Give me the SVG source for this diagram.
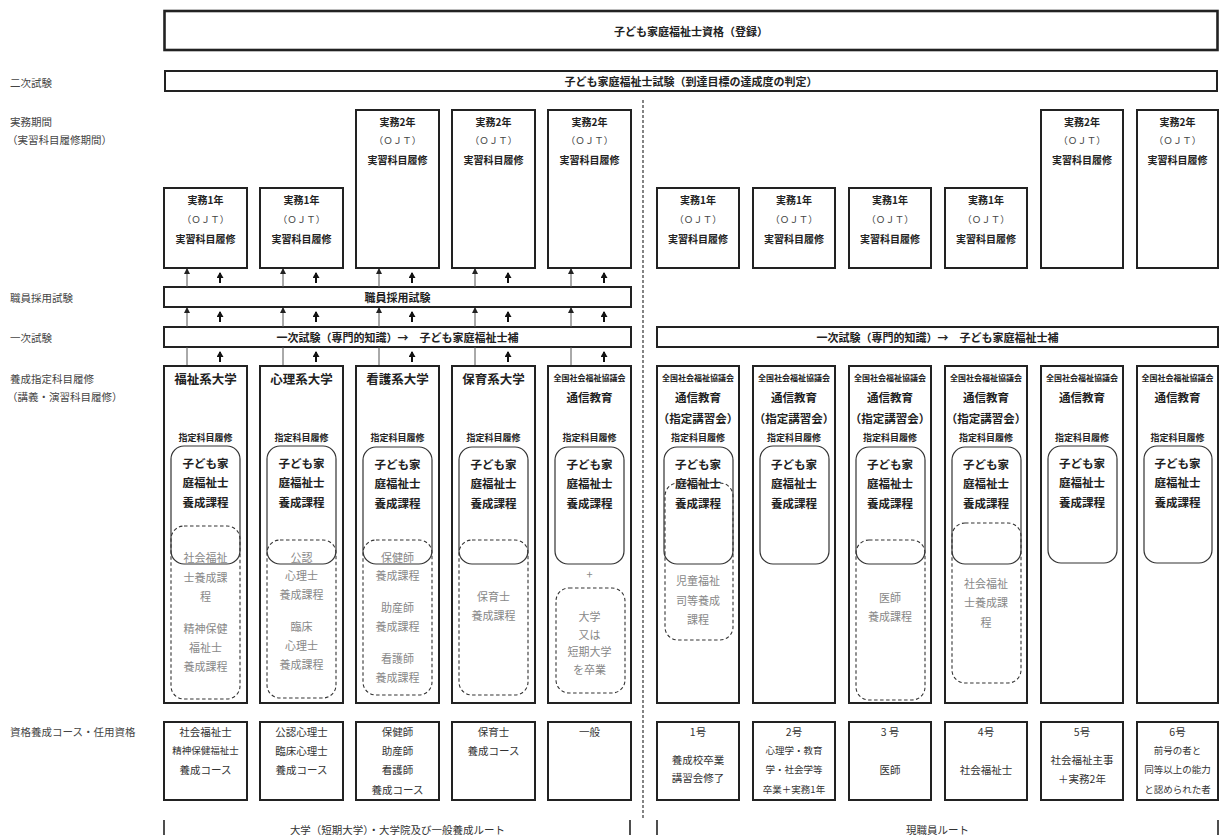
<svg xmlns="http://www.w3.org/2000/svg" width="1224" height="835" viewBox="0 0 1224 835">
<defs>
<style>
text{font-family:"Noto Sans CJK JP","Noto Sans",sans-serif;text-anchor:middle;dominant-baseline:central;fill:#222}
.lbl{text-anchor:start;font-size:10.5px;fill:#444}
.box{fill:#fff;stroke:#222;stroke-width:2}
.top{fill:#fff;stroke:#222;stroke-width:2.6}
.rr{fill:none;stroke:#333;stroke-width:1.2}
.dr{fill:none;stroke:#333;stroke-width:1.1;stroke-dasharray:3.5 2.5}
.h1{font-size:11px;font-weight:bold}
.pr{font-size:10px;font-weight:bold}
.ojt{font-size:9.5px;fill:#444}
.uni{font-size:12.5px;font-weight:bold}
.org{font-size:8px;font-weight:bold}
.tsu{font-size:11.5px;font-weight:bold}
.shi{font-size:9px;font-weight:bold}
.kc{font-size:11.5px;font-weight:bold}
.gr{font-size:11px;fill:#888}
.bt{font-size:10.5px;fill:#333}
.bs{font-size:9.5px;fill:#333}
.thin{stroke:#555;stroke-width:1;fill:none}
.bold{stroke:#111;stroke-width:2;fill:none}
.brk{stroke:#222;stroke-width:1.6}
</style>
<marker id="ah" markerUnits="userSpaceOnUse" markerWidth="6" markerHeight="6" viewBox="0 0 6 6" refX="5" refY="3" orient="auto"><path d="M0,0 L6,3 L0,6 Z" fill="#222"/></marker>
<marker id="ahb" markerUnits="userSpaceOnUse" markerWidth="6" markerHeight="7" viewBox="0 0 6 7" refX="5" refY="3.5" orient="auto"><path d="M0,0 L6,3.5 L0,7 Z" fill="#111"/></marker>
</defs>

<g id="row-labels">
<text class="lbl" x="10" y="82">二次試験</text>
<text class="lbl" x="10" y="121">実務期間</text>
<text class="lbl" x="7" y="139">（実習科目履修期間）</text>
<text class="lbl" x="10" y="297">職員採用試験</text>
<text class="lbl" x="10" y="337">一次試験</text>
<text class="lbl" x="10" y="378">養成指定科目履修</text>
<text class="lbl" x="7" y="396">（講義・演習科目履修）</text>
<text class="lbl" x="10" y="731">資格養成コース・任用資格</text>
</g>

<g id="qualification">
<rect class="top" x="164.5" y="11" width="1053" height="39"/>
<text class="h1" x="691" y="31">子ども家庭福祉士資格（登録）</text>
</g>
<g id="second-exam">
<rect class="box" x="165" y="71" width="1052" height="20"/>
<text class="h1" x="691" y="81">子ども家庭福祉士試験（到達目標の達成度の判定）</text>
</g>

<g id="divider">
<line x1="643" y1="100" x2="643" y2="818" stroke="#333" stroke-width="1.2" stroke-dasharray="3 2"/>
</g>

<g id="practice-1"><rect class="box" x="164" y="188" width="83" height="80"/><text class="pr" x="205.5" y="199">実務1年</text><text class="ojt" x="205.5" y="219">（ＯＪＴ）</text><text class="pr" x="205.5" y="238">実習科目履修</text></g>
<g id="practice-2"><rect class="box" x="260" y="188" width="83" height="80"/><text class="pr" x="301.5" y="199">実務1年</text><text class="ojt" x="301.5" y="219">（ＯＪＴ）</text><text class="pr" x="301.5" y="238">実習科目履修</text></g>
<g id="practice-3"><rect class="box" x="356" y="110" width="83" height="158"/><text class="pr" x="397.5" y="121">実務2年</text><text class="ojt" x="397.5" y="140">（ＯＪＴ）</text><text class="pr" x="397.5" y="159">実習科目履修</text></g>
<g id="practice-4"><rect class="box" x="452" y="110" width="83" height="158"/><text class="pr" x="493.5" y="121">実務2年</text><text class="ojt" x="493.5" y="140">（ＯＪＴ）</text><text class="pr" x="493.5" y="159">実習科目履修</text></g>
<g id="practice-5"><rect class="box" x="548" y="110" width="83" height="158"/><text class="pr" x="589.5" y="121">実務2年</text><text class="ojt" x="589.5" y="140">（ＯＪＴ）</text><text class="pr" x="589.5" y="159">実習科目履修</text></g>
<g id="practice-6"><rect class="box" x="657" y="188" width="82" height="80"/><text class="pr" x="698" y="199">実務1年</text><text class="ojt" x="698" y="219">（ＯＪＴ）</text><text class="pr" x="698" y="238">実習科目履修</text></g>
<g id="practice-7"><rect class="box" x="753" y="188" width="82" height="80"/><text class="pr" x="794" y="199">実務1年</text><text class="ojt" x="794" y="219">（ＯＪＴ）</text><text class="pr" x="794" y="238">実習科目履修</text></g>
<g id="practice-8"><rect class="box" x="849" y="188" width="82" height="80"/><text class="pr" x="890" y="199">実務1年</text><text class="ojt" x="890" y="219">（ＯＪＴ）</text><text class="pr" x="890" y="238">実習科目履修</text></g>
<g id="practice-9"><rect class="box" x="945" y="188" width="82" height="80"/><text class="pr" x="986" y="199">実務1年</text><text class="ojt" x="986" y="219">（ＯＪＴ）</text><text class="pr" x="986" y="238">実習科目履修</text></g>
<g id="practice-10"><rect class="box" x="1041" y="110" width="82" height="158"/><text class="pr" x="1082" y="121">実務2年</text><text class="ojt" x="1082" y="140">（ＯＪＴ）</text><text class="pr" x="1082" y="159">実習科目履修</text></g>
<g id="practice-11"><rect class="box" x="1137" y="110" width="81" height="158"/><text class="pr" x="1177.5" y="121">実務2年</text><text class="ojt" x="1177.5" y="140">（ＯＪＴ）</text><text class="pr" x="1177.5" y="159">実習科目履修</text></g>

<g id="staff-exam">
<rect class="box" x="164" y="287" width="467" height="20"/>
<text class="h1" x="397.5" y="297">職員採用試験</text>
</g>
<g id="first-exam-left">
<rect class="box" x="164" y="327" width="467" height="20"/>
<text class="h1" x="397.5" y="337">一次試験（専門的知識）→　子ども家庭福祉士補</text>
</g>
<g id="first-exam-right">
<rect class="box" x="657" y="327" width="561" height="20"/>
<text class="h1" x="937.5" y="337">一次試験（専門的知識）→　子ども家庭福祉士補</text>
</g>

<g id="connectors">
<g class="thin">
<line x1="187" y1="287" x2="187" y2="269" marker-end="url(#ah)"/><line x1="187" y1="327" x2="187" y2="308" marker-end="url(#ah)"/><line x1="187" y1="366" x2="187" y2="347"/>
<line x1="283" y1="287" x2="283" y2="269" marker-end="url(#ah)"/><line x1="283" y1="327" x2="283" y2="308" marker-end="url(#ah)"/><line x1="283" y1="366" x2="283" y2="347"/>
<line x1="379" y1="287" x2="379" y2="269" marker-end="url(#ah)"/><line x1="379" y1="327" x2="379" y2="308" marker-end="url(#ah)"/><line x1="379" y1="366" x2="379" y2="347"/>
<line x1="475" y1="287" x2="475" y2="269" marker-end="url(#ah)"/><line x1="475" y1="327" x2="475" y2="308" marker-end="url(#ah)"/><line x1="475" y1="366" x2="475" y2="347"/>
<line x1="571" y1="287" x2="571" y2="269" marker-end="url(#ah)"/><line x1="571" y1="327" x2="571" y2="308" marker-end="url(#ah)"/><line x1="571" y1="366" x2="571" y2="347"/>
</g>
<g class="bold">
<line x1="220" y1="283" x2="220" y2="273" marker-end="url(#ahb)"/><line x1="220" y1="322" x2="220" y2="312" marker-end="url(#ahb)"/><line x1="220" y1="362" x2="220" y2="352" marker-end="url(#ahb)"/>
<line x1="316" y1="283" x2="316" y2="273" marker-end="url(#ahb)"/><line x1="316" y1="322" x2="316" y2="312" marker-end="url(#ahb)"/><line x1="316" y1="362" x2="316" y2="352" marker-end="url(#ahb)"/>
<line x1="412" y1="283" x2="412" y2="273" marker-end="url(#ahb)"/><line x1="412" y1="322" x2="412" y2="312" marker-end="url(#ahb)"/><line x1="412" y1="362" x2="412" y2="352" marker-end="url(#ahb)"/>
<line x1="508" y1="283" x2="508" y2="273" marker-end="url(#ahb)"/><line x1="508" y1="322" x2="508" y2="312" marker-end="url(#ahb)"/><line x1="508" y1="362" x2="508" y2="352" marker-end="url(#ahb)"/>
<line x1="604" y1="283" x2="604" y2="273" marker-end="url(#ahb)"/><line x1="604" y1="322" x2="604" y2="312" marker-end="url(#ahb)"/><line x1="604" y1="362" x2="604" y2="352" marker-end="url(#ahb)"/>
</g>
</g>

<g id="col-1">
<rect class="box" x="164" y="366" width="83" height="337"/>
<text class="uni" x="205.5" y="378">福祉系大学</text>
<text class="shi" x="205.5" y="437">指定科目履修</text>
<rect class="rr" x="171" y="446" width="69" height="118" rx="13"/>
<text class="kc" x="205.5" y="463">子ども家</text><text class="kc" x="205.5" y="482">庭福祉士</text><text class="kc" x="205.5" y="502">養成課程</text>
<rect class="dr" x="171" y="526" width="69" height="173" rx="13"/>
<text class="gr" x="205.5" y="557">社会福祉</text><text class="gr" x="205.5" y="577">士養成課</text><text class="gr" x="205.5" y="596">程</text>
<text class="gr" x="205.5" y="628">精神保健</text><text class="gr" x="205.5" y="647">福祉士</text><text class="gr" x="205.5" y="666">養成課程</text>
</g>
<g id="col-2">
<rect class="box" x="260" y="366" width="83" height="337"/>
<text class="uni" x="301.5" y="378">心理系大学</text>
<text class="shi" x="301.5" y="437">指定科目履修</text>
<rect class="rr" x="267" y="446" width="69" height="118" rx="13"/>
<text class="kc" x="301.5" y="463">子ども家</text><text class="kc" x="301.5" y="482">庭福祉士</text><text class="kc" x="301.5" y="502">養成課程</text>
<rect class="dr" x="267" y="540" width="69" height="158" rx="13"/>
<text class="gr" x="301.5" y="557">公認</text><text class="gr" x="301.5" y="575">心理士</text><text class="gr" x="301.5" y="594">養成課程</text>
<text class="gr" x="301.5" y="626">臨床</text><text class="gr" x="301.5" y="645">心理士</text><text class="gr" x="301.5" y="664">養成課程</text>
</g>
<g id="col-3">
<rect class="box" x="356" y="366" width="83" height="337"/>
<text class="uni" x="397.5" y="378">看護系大学</text>
<text class="shi" x="397.5" y="437">指定科目履修</text>
<rect class="rr" x="363" y="447" width="69" height="117" rx="13"/>
<text class="kc" x="397.5" y="464">子ども家</text><text class="kc" x="397.5" y="483">庭福祉士</text><text class="kc" x="397.5" y="503">養成課程</text>
<rect class="dr" x="363" y="540" width="69" height="155" rx="13"/>
<text class="gr" x="397.5" y="557">保健師</text><text class="gr" x="397.5" y="575">養成課程</text>
<text class="gr" x="397.5" y="607">助産師</text><text class="gr" x="397.5" y="626">養成課程</text>
<text class="gr" x="397.5" y="658">看護師</text><text class="gr" x="397.5" y="677">養成課程</text>
</g>
<g id="col-4">
<rect class="box" x="452" y="366" width="83" height="337"/>
<text class="uni" x="493.5" y="378">保育系大学</text>
<text class="shi" x="493.5" y="437">指定科目履修</text>
<rect class="rr" x="459" y="447" width="69" height="117" rx="13"/>
<text class="kc" x="493.5" y="464">子ども家</text><text class="kc" x="493.5" y="483">庭福祉士</text><text class="kc" x="493.5" y="503">養成課程</text>
<rect class="dr" x="459" y="540" width="69" height="155" rx="13"/>
<text class="gr" x="493.5" y="596">保育士</text><text class="gr" x="493.5" y="615">養成課程</text>
</g>
<g id="col-5">
<rect class="box" x="548" y="366" width="83" height="337"/>
<text class="org" x="589.5" y="377">全国社会福祉協議会</text>
<text class="tsu" x="589.5" y="397">通信教育</text>
<text class="shi" x="589.5" y="437">指定科目履修</text>
<rect class="rr" x="555" y="447" width="69" height="117" rx="13"/>
<text class="kc" x="589.5" y="464">子ども家</text><text class="kc" x="589.5" y="483">庭福祉士</text><text class="kc" x="589.5" y="503">養成課程</text>
<text class="gr" x="589.5" y="574">+</text>
<rect class="dr" x="556" y="588" width="69" height="105" rx="13"/>
<text class="gr" x="589.5" y="616">大学</text><text class="gr" x="589.5" y="634">又は</text><text class="gr" x="589.5" y="651">短期大学</text><text class="gr" x="589.5" y="669">を卒業</text>
</g>
<g id="col-6">
<rect class="box" x="657" y="366" width="82" height="337"/>
<text class="org" x="698" y="377">全国社会福祉協議会</text>
<text class="tsu" x="698" y="397">通信教育</text>
<text class="tsu" x="698" y="418">（指定講習会）</text>
<text class="shi" x="698" y="437">指定科目履修</text>
<rect class="rr" x="664" y="447" width="69" height="117" rx="13"/>
<text class="kc" x="698" y="464">子ども家</text><text class="kc" x="698" y="483">庭福祉士</text><text class="kc" x="698" y="503">養成課程</text>
<rect class="dr" x="665" y="483" width="68" height="157" rx="13"/>
<text class="gr" x="698" y="580">児童福祉</text><text class="gr" x="698" y="600">司等養成</text><text class="gr" x="698" y="619">課程</text>
</g>
<g id="col-7">
<rect class="box" x="753" y="366" width="82" height="337"/>
<text class="org" x="794" y="377">全国社会福祉協議会</text>
<text class="tsu" x="794" y="397">通信教育</text>
<text class="tsu" x="794" y="418">（指定講習会）</text>
<text class="shi" x="794" y="437">指定科目履修</text>
<rect class="rr" x="760" y="446" width="69" height="118" rx="13"/>
<text class="kc" x="794" y="464">子ども家</text><text class="kc" x="794" y="483">庭福祉士</text><text class="kc" x="794" y="503">養成課程</text>
</g>
<g id="col-8">
<rect class="box" x="849" y="366" width="82" height="337"/>
<text class="org" x="890" y="377">全国社会福祉協議会</text>
<text class="tsu" x="890" y="397">通信教育</text>
<text class="tsu" x="890" y="418">（指定講習会）</text>
<text class="shi" x="890" y="437">指定科目履修</text>
<rect class="rr" x="856" y="447" width="69" height="117" rx="13"/>
<text class="kc" x="890" y="464">子ども家</text><text class="kc" x="890" y="483">庭福祉士</text><text class="kc" x="890" y="503">養成課程</text>
<rect class="dr" x="856" y="540" width="69" height="160" rx="13"/>
<text class="gr" x="890" y="597">医師</text><text class="gr" x="890" y="616">養成課程</text>
</g>
<g id="col-9">
<rect class="box" x="945" y="366" width="82" height="337"/>
<text class="org" x="986" y="377">全国社会福祉協議会</text>
<text class="tsu" x="986" y="397">通信教育</text>
<text class="tsu" x="986" y="418">（指定講習会）</text>
<text class="shi" x="986" y="437">指定科目履修</text>
<rect class="rr" x="952" y="447" width="69" height="117" rx="13"/>
<text class="kc" x="986" y="464">子ども家</text><text class="kc" x="986" y="483">庭福祉士</text><text class="kc" x="986" y="503">養成課程</text>
<rect class="dr" x="952" y="523" width="69" height="160" rx="13"/>
<text class="gr" x="986" y="583">社会福祉</text><text class="gr" x="986" y="602">士養成課</text><text class="gr" x="986" y="622">程</text>
</g>
<g id="col-10">
<rect class="box" x="1041" y="366" width="82" height="337"/>
<text class="org" x="1082" y="377">全国社会福祉協議会</text>
<text class="tsu" x="1082" y="397">通信教育</text>
<text class="shi" x="1082" y="437">指定科目履修</text>
<rect class="rr" x="1048" y="446" width="69" height="117" rx="13"/>
<text class="kc" x="1082" y="463">子ども家</text><text class="kc" x="1082" y="482">庭福祉士</text><text class="kc" x="1082" y="502">養成課程</text>
</g>
<g id="col-11">
<rect class="box" x="1137" y="366" width="81" height="337"/>
<text class="org" x="1177.5" y="377">全国社会福祉協議会</text>
<text class="tsu" x="1177.5" y="397">通信教育</text>
<text class="shi" x="1177.5" y="437">指定科目履修</text>
<rect class="rr" x="1144" y="446" width="68" height="117" rx="13"/>
<text class="kc" x="1177.5" y="463">子ども家</text><text class="kc" x="1177.5" y="482">庭福祉士</text><text class="kc" x="1177.5" y="502">養成課程</text>
</g>

<g id="q-1"><rect class="box" x="164" y="722" width="83" height="78"/><text class="bt" x="205.5" y="731">社会福祉士</text><text class="bs" x="205.5" y="750">精神保健福祉士</text><text class="bt" x="205.5" y="769">養成コース</text></g>
<g id="q-2"><rect class="box" x="260" y="722" width="83" height="78"/><text class="bt" x="301.5" y="731">公認心理士</text><text class="bt" x="301.5" y="750">臨床心理士</text><text class="bt" x="301.5" y="769">養成コース</text></g>
<g id="q-3"><rect class="box" x="356" y="722" width="83" height="78"/><text class="bt" x="397.5" y="731">保健師</text><text class="bt" x="397.5" y="750">助産師</text><text class="bt" x="397.5" y="769">看護師</text><text class="bt" x="397.5" y="789">養成コース</text></g>
<g id="q-4"><rect class="box" x="452" y="722" width="83" height="78"/><text class="bt" x="493.5" y="731">保育士</text><text class="bt" x="493.5" y="750">養成コース</text></g>
<g id="q-5"><rect class="box" x="548" y="722" width="83" height="78"/><text class="bt" x="589.5" y="731">一般</text></g>
<g id="q-6"><rect class="box" x="657" y="722" width="82" height="78"/><text class="bt" x="698" y="731">1号</text><text class="bt" x="698" y="759">養成校卒業</text><text class="bt" x="698" y="777">講習会修了</text></g>
<g id="q-7"><rect class="box" x="753" y="722" width="82" height="78"/><text class="bt" x="794" y="731">2号</text><text class="bs" x="794" y="750">心理学・教育</text><text class="bs" x="794" y="769">学・社会学等</text><text class="bs" x="794" y="789">卒業＋実務1年</text></g>
<g id="q-8"><rect class="box" x="849" y="722" width="82" height="78"/><text class="bt" x="890" y="731">3 号</text><text class="bt" x="890" y="769">医師</text></g>
<g id="q-9"><rect class="box" x="945" y="722" width="82" height="78"/><text class="bt" x="986" y="731">4号</text><text class="bt" x="986" y="769">社会福祉士</text></g>
<g id="q-10"><rect class="box" x="1041" y="722" width="82" height="78"/><text class="bt" x="1082" y="731">5号</text><text class="bt" x="1082" y="759">社会福祉主事</text><text class="bt" x="1082" y="778">＋実務2年</text></g>
<g id="q-11"><rect class="box" x="1137" y="722" width="81" height="78"/><text class="bt" x="1177.5" y="731">6号</text><text class="bs" x="1177.5" y="750">前号の者と</text><text class="bs" x="1177.5" y="769">同等以上の能力</text><text class="bs" x="1177.5" y="789">と認められた者</text></g>

<g id="route-left">
<line class="brk" x1="164" y1="820" x2="164" y2="835"/><line class="brk" x1="630" y1="820" x2="630" y2="835"/>
<text class="bt" x="397.5" y="829">大学（短期大学）・大学院及び一般養成ルート</text>
</g>
<g id="route-right">
<line class="brk" x1="657" y1="820" x2="657" y2="835"/><line class="brk" x1="1218" y1="820" x2="1218" y2="835"/>
<text class="bt" x="937.5" y="829">現職員ルート</text>
</g>
</svg>
